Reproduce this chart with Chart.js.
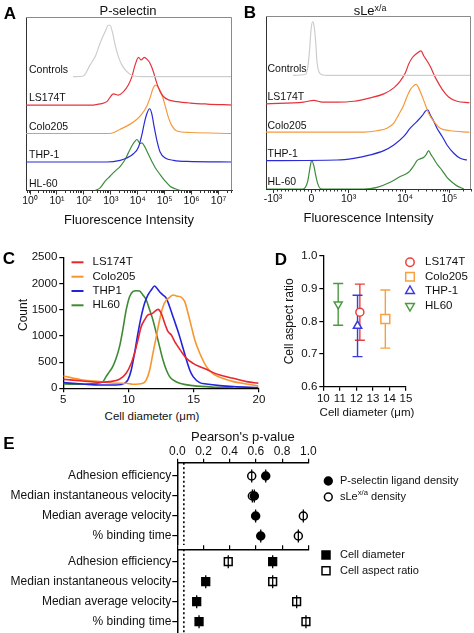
<!DOCTYPE html>
<html><head><meta charset="utf-8">
<script src="https://cdn.jsdelivr.net/npm/chart.js@4.4.1/dist/chart.umd.min.js"></script>
<style>
html,body{margin:0;padding:0;background:#fff}
body{position:relative;width:474px;height:633px;overflow:hidden;font-family:"Liberation Sans",Arial,Helvetica,sans-serif;color:#111}
canvas{position:absolute}
.tx{position:absolute;white-space:nowrap;transform:translate(-50%,-50%);line-height:1}
.lt{font-weight:bold;font-size:17px;color:#000}
sup{font-size:0.68em;vertical-align:0.45em;line-height:0}
</style></head><body>
<canvas id="cA" width="240" height="232" style="left:0;top:0"></canvas>
<canvas id="cB" width="234" height="232" style="left:240px;top:0"></canvas>
<canvas id="cC" width="280" height="170" style="left:0;top:240px"></canvas>
<canvas id="cD" width="194" height="182" style="left:280px;top:240px"></canvas>
<canvas id="cE1" width="474" height="120" style="left:0;top:428px"></canvas>
<canvas id="cE2" width="474" height="88" style="left:0;top:545px"></canvas>
<div class="tx lt" style="left:10px;top:13px">A</div>
<div class="tx lt" style="left:250px;top:12px">B</div>
<div class="tx lt" style="left:9px;top:258px">C</div>
<div class="tx lt" style="left:281px;top:259px">D</div>
<div class="tx lt" style="left:9px;top:443px">E</div>
<div class="tx" style="left:128px;top:10px;font-size:13px">P-selectin</div>
<div class="tx" style="left:370px;top:10px;font-size:13px">sLe<sup>x/a</sup></div>
<div class="tx" style="left:23px;top:315px;font-size:12px;transform:translate(-50%,-50%) rotate(-90deg)">Count</div>
<div class="tx" style="left:152px;top:417px;font-size:11.5px">Cell diameter (μm)</div>
<div class="tx" style="left:367px;top:413px;font-size:11.5px">Cell diameter (μm)</div>
<script>
// ---------------- DATA ----------------
const trackNames = ['HL-60', 'THP-1', 'Colo205', 'LS174T', 'Controls']; // bottom to top
// Panel A (P-selectin): [log10 fluorescence, normalized count]
const aControls = [[1.6,0],[1.73,0],[1.98,0.02],[2.23,0.41],[2.42,0.70],[2.60,1.17],[2.79,1.58],[2.91,1.80],[2.97,1.80],[3.07,1.52],[3.16,1.11],[3.28,0.70],[3.41,0.41],[3.59,0.18],[3.84,0.02],[4.2,0],[7.5,0]];
const aLS174T = [[-0.15,0],[2.35,0],[2.60,0.04],[2.85,0.12],[3.10,0.39],[3.28,0.35],[3.47,0.47],[3.65,0.70],[3.78,0.99],[3.90,1.40],[4.03,1.67],[4.13,1.58],[4.24,1.67],[4.34,1.61],[4.46,1.46],[4.58,1.17],[4.71,0.76],[4.83,0.47],[4.96,0.29],[5.14,0.18],[5.45,0.12],[5.95,0.07],[6.57,0.035],[7.5,0]];
const aColo205 = [[-0.15,0],[2.97,0],[3.35,0.15],[3.72,0.33],[3.97,0.50],[4.15,0.68],[4.34,0.97],[4.46,1.26],[4.56,1.56],[4.65,1.70],[4.77,1.61],[4.89,1.38],[5.02,0.97],[5.14,0.56],[5.27,0.27],[5.45,0.09],[5.95,0.035],[7.5,0]];
const aTHP1 = [[-0.15,0],[2.85,0],[3.35,0.06],[3.59,0.14],[3.84,0.29],[4.03,0.53],[4.15,0.94],[4.24,1.35],[4.34,1.70],[4.44,1.87],[4.52,1.70],[4.61,1.23],[4.71,0.76],[4.83,0.35],[5.02,0.14],[5.33,0.06],[5.82,0.02],[7.5,0]];
const aHL60 = [[2.42,0],[2.60,0.09],[2.79,0.33],[2.97,0.50],[3.16,0.68],[3.35,0.85],[3.53,1.09],[3.65,1.32],[3.78,1.56],[3.90,1.73],[3.97,1.79],[4.09,1.65],[4.15,1.67],[4.28,1.50],[4.40,1.26],[4.52,1.03],[4.65,0.80],[4.83,0.56],[5.02,0.33],[5.20,0.15],[5.39,0.06],[5.58,0]];
const aTickPos = [0,1,2,3,4,5,6,7];
const aTickLabels = ['10⁰','10¹','10²','10³','10⁴','10⁵','10⁶','10⁷'];
// Panel B (sLe x/a): [display coordinate of biexponential axis, normalized count]
const bControls = [[-0.5,0],[-0.19,0.04],[-0.13,0.29],[-0.08,1.00],[-0.05,1.59],[-0.01,1.88],[0.03,1.71],[0.07,1.12],[0.10,0.47],[0.15,0.12],[0.23,0.02],[0.35,0],[3.95,0]];
const bLS174T = [[-1.175,0],[-0.23,0.06],[0.02,0.12],[0.23,0.06],[0.60,0.06],[1.02,0.09],[1.43,0.21],[1.77,0.35],[2.02,0.56],[2.18,0.80],[2.31,1.09],[2.39,1.39],[2.48,1.62],[2.60,1.78],[2.70,1.86],[2.77,1.68],[2.83,1.56],[2.93,1.32],[3.06,0.92],[3.23,0.51],[3.39,0.24],[3.60,0.09],[3.91,0.04]];
const bColo205 = [[-1.175,0],[1.27,0],[1.60,0.05],[1.85,0.14],[2.02,0.32],[2.14,0.61],[2.27,0.96],[2.35,1.25],[2.43,1.49],[2.52,1.64],[2.58,1.68],[2.64,1.56],[2.73,1.26],[2.81,0.96],[2.89,0.67],[3.02,0.38],[3.18,0.14],[3.43,0.05],[3.91,0]];
const bTHP1 = [[-1.175,0],[0.60,0.02],[1.02,0.08],[1.43,0.20],[1.77,0.35],[2.02,0.55],[2.27,0.85],[2.43,1.14],[2.60,1.38],[2.73,1.58],[2.81,1.74],[2.87,1.79],[2.93,1.61],[3.02,1.38],[3.10,1.14],[3.23,0.85],[3.35,0.55],[3.52,0.26],[3.68,0.08],[3.85,0.02]];
const bHL60 = [[-1.175,0],[-0.25,0],[-0.19,0.06],[-0.13,0.29],[-0.08,0.71],[-0.05,0.94],[-0.03,1.00],[0.02,0.82],[0.07,0.47],[0.12,0.18],[0.18,0.02],[0.27,0],[1.27,0],[1.60,0.06],[1.93,0.24],[2.18,0.44],[2.39,0.59],[2.52,0.82],[2.60,1.00],[2.68,1.06],[2.77,1.12],[2.83,1.21],[2.89,1.35],[2.95,1.21],[3.02,1.06],[3.10,0.88],[3.23,0.65],[3.35,0.41],[3.48,0.24],[3.60,0.11],[3.77,0]];
const bTickPos = [-1.0, -0.04, 0.89, 2.3, 3.41];
const bTickLabels = ['-10³', '0', '10³', '10⁴', '10⁵'];
// Panel C: [cell diameter (µm), count]
const cNames = ['LS174T', 'Colo205', 'THP1', 'HL60'];
const cLS174T = [[5.0,172],[6.49,140],[7.77,115],[8.54,127],[9.31,172],[9.82,286],[10.21,477],[10.46,668],[10.72,922],[10.97,1177],[11.23,1304],[11.49,1399],[11.74,1418],[12.0,1463],[12.26,1507],[12.51,1431],[12.77,1240],[13.03,1081],[13.28,1018],[13.54,891],[13.79,795],[14.05,700],[14.44,572],[14.95,477],[15.46,413],[15.97,363],[16.49,299],[17.0,254],[18.03,191],[19.05,127],[19.95,95]];
const cColo205 = [[5.0,235],[6.49,159],[7.77,127],[9.05,95],[9.82,95],[10.33,76],[11.1,95],[11.36,159],[11.62,350],[11.87,668],[12.13,986],[12.38,1304],[12.64,1558],[12.9,1685],[13.15,1736],[13.41,1781],[13.67,1762],[14.05,1736],[14.31,1654],[14.56,1431],[14.82,1177],[15.08,922],[15.46,668],[15.97,413],[16.49,273],[17.0,210],[18.03,127],[19.05,83],[19.95,45]];
const cTHP1 = [[5.0,108],[6.49,83],[7.77,64],[9.05,64],[9.69,95],[9.95,159],[10.21,350],[10.46,668],[10.72,1049],[10.97,1367],[11.23,1622],[11.49,1781],[11.74,1876],[12.0,1953],[12.18,1908],[12.38,1844],[12.64,1781],[12.9,1717],[13.15,1558],[13.41,1367],[13.67,1177],[13.92,986],[14.18,763],[14.44,541],[14.69,350],[14.95,223],[15.46,108],[15.97,83],[17.0,51],[18.03,32],[19.95,13]];
const cHL60 = [[5.0,83],[6.49,76],[7.51,95],[8.03,127],[8.28,223],[8.54,318],[8.79,413],[9.05,572],[9.31,795],[9.56,1113],[9.82,1495],[10.08,1749],[10.33,1844],[10.59,1863],[10.85,1857],[11.1,1781],[11.36,1685],[11.62,1495],[11.87,1304],[12.13,1049],[12.38,795],[12.64,541],[12.9,350],[13.15,223],[13.41,159],[13.92,95],[14.95,51],[16.74,19],[18.03,6]];
// Panel D
const dNames = ['LS174T', 'Colo205', 'THP-1', 'HL60'];
const dDiameter = [12.21, 13.75, 12.07, 10.90];
const dAspect = [0.828, 0.807, 0.786, 0.852];
const dAspectSD = [0.086, 0.089, 0.094, 0.064];
// Panel E
const eRows = ['Adhesion efficiency', 'Median instantaneous velocity', 'Median average velocity', '% binding time'];
const pSelectinP = [0.675, 0.588, 0.598, 0.637];
const sLeP = [0.568, 0.573, 0.962, 0.924];
const cellDiameterP = [0.728, 0.217, 0.148, 0.166];
const aspectRatioP = [0.389, 0.728, 0.911, 0.982];
const pThreshold = 0.05;

// ---------------- STYLE / HELPERS ----------------
const FF = '"Liberation Sans", Arial, Helvetica, sans-serif';
Chart.defaults.font.family = FF;
Chart.defaults.color = '#111';
Chart.defaults.animation = false;
Chart.defaults.events = [];
Chart.defaults.layout.autoPadding = false;
Chart.defaults.plugins.legend.display = false;
Chart.defaults.plugins.tooltip.enabled = false;

const COL = {Controls:'#cdcdcd', LS174T:'#e5323b', Colo205:'#f59a3c', THP1:'#2a2ad6', HL60:'#3d8b3d'};

function fixW(w){ return s => { s.width = w; s.paddingTop = 0; s.paddingBottom = 0; }; }
function fixH(h){ return s => { s.height = h; s.paddingLeft = 0; s.paddingRight = 0; }; }

function trackSeries(pts, name, color){
  const t = trackNames.indexOf(name);
  return { label:name, data: pts.map(p => ({x:p[0], y:t + p[1]})), borderColor:color, borderWidth:1.2,
    pointRadius:0, showLine:true, fill:false, cubicInterpolationMode:'monotone' };
}
function lineSeries(pts, name, color){
  return { label:name, data: pts.map(p => ({x:p[0], y:p[1]})), borderColor:color, borderWidth:1.6,
    pointRadius:0, showLine:true, fill:false, cubicInterpolationMode:'monotone' };
}
function mark(ctx, shape, x, y, r, stroke, fill, lw){
  ctx.save(); ctx.lineWidth = lw; ctx.strokeStyle = stroke; ctx.beginPath();
  if (shape === 'circle') ctx.arc(x, y, r, 0, Math.PI*2);
  else if (shape === 'rect') ctx.rect(x-r, y-r, 2*r, 2*r);
  else if (shape === 'tri') { ctx.moveTo(x, y-r); ctx.lineTo(x+r*0.866, y+r*0.5); ctx.lineTo(x-r*0.866, y+r*0.5); ctx.closePath(); }
  else if (shape === 'triDown') { ctx.moveTo(x, y+r); ctx.lineTo(x+r*0.866, y-r*0.5); ctx.lineTo(x-r*0.866, y-r*0.5); ctx.closePath(); }
  if (fill) { ctx.fillStyle = fill; ctx.fill(); }
  ctx.stroke(); ctx.restore();
}
function drawSegs(ctx, segs, x, y, size){
  let cx = x;
  for (const s of segs){
    const sup = typeof s !== 'string';
    const t = sup ? s.sup : s;
    ctx.font = (sup ? size*0.7 : size) + 'px ' + FF;
    ctx.fillText(t, cx, sup ? y - size*0.4 : y);
    cx += ctx.measureText(t).width;
  }
}
function legendPlugin(items, ox, oy){
  return { id:'lg', afterDraw(chart){
    const ctx = chart.ctx; ctx.save(); ctx.textBaseline = 'middle';
    for (const it of items){
      const y = it.y - oy;
      if (it.line){ ctx.strokeStyle = it.color; ctx.lineWidth = 2; ctx.beginPath(); ctx.moveTo(it.line[0]-ox, y); ctx.lineTo(it.line[1]-ox, y); ctx.stroke(); }
      else mark(ctx, it.shape, it.mx-ox, y, it.r, it.color, it.fill, it.lw || 1.5);
      ctx.fillStyle = '#111'; drawSegs(ctx, it.text, it.tx-ox, y, it.size);
    }
    ctx.restore();
  }};
}
function histDecor(minor, labelDx){
  return { id:'hd', afterDraw(chart){
    const {ctx, chartArea:a, scales:{x, y}} = chart;
    ctx.save();
    ctx.strokeStyle = '#8a8a8a'; ctx.lineWidth = 1; ctx.beginPath();
    ctx.moveTo(a.left, a.top+0.5); ctx.lineTo(a.right-0.5, a.top+0.5); ctx.lineTo(a.right-0.5, a.bottom); ctx.stroke();
    ctx.strokeStyle = '#333'; ctx.beginPath();
    for (const v of minor){ if (v <= x.min || v >= x.max) continue; const px = Math.round(x.getPixelForValue(v)) + 0.5; ctx.moveTo(px, a.bottom); ctx.lineTo(px, a.bottom+2.5); }
    ctx.stroke();
    ctx.fillStyle = '#111'; ctx.textBaseline = 'middle'; ctx.font = '10.5px ' + FF;
    trackNames.forEach((n, i) => ctx.fillText(n, a.left + labelDx, y.getPixelForValue(i) - 6.5));
    ctx.restore();
  }};
}
function histOptions(o){
  return {
    responsive:false, layout:{autoPadding:false, padding:{left:0, top:o.top, right:o.right, bottom:0}},
    scales:{
      x:{type:'linear', min:o.min, max:o.max, bounds:'data',
        afterBuildTicks: s => { s.ticks = o.tickPos.map(v => ({value:v})); },
        afterFit: fixH(o.xh),
        ticks:{callback:(v,i) => o.tickLabels[i], autoSkip:false, maxRotation:0, padding:0, font:{size:10.5}, color:'#111'},
        grid:{drawOnChartArea:false, drawTicks:true, tickLength:4, color:'#333', lineWidth:1},
        border:{display:true, color:'#333', width:1},
        title:{display:true, text:'Fluorescence Intensity', font:{size:13}, color:'#111', padding:{top:0, bottom:o.tb}}},
      y:{type:'linear', min:0, max:o.ymax, afterFit: fixW(26), ticks:{display:false},
        grid:{display:false}, border:{display:true, color:'#333', width:1}}
    }
  };
}

// ---------------- PANEL A ----------------
const minorA = [];
for (let d = -1; d <= 7; d++) for (let k = 2; k <= 9; k++) minorA.push(d + Math.log10(k));
new Chart(document.getElementById('cA'), {
  type:'scatter',
  data:{datasets:[
    trackSeries(aControls, 'Controls', COL.Controls),
    trackSeries(aLS174T, 'LS174T', COL.LS174T),
    trackSeries(aColo205, 'Colo205', COL.Colo205),
    trackSeries(aTHP1, 'THP-1', COL.THP1),
    trackSeries(aHL60, 'HL-60', COL.HL60)]},
  options: histOptions({top:17, right:8, min:-0.15, max:7.5, tickPos:aTickPos, tickLabels:aTickLabels, xh:41.5, tb:4, ymax:6.09}),
  plugins:[histDecor(minorA, 3)]
});

// ---------------- PANEL B ----------------
const minorB = [];
for (let k = 1; k <= 9; k++){ minorB.push(-0.04 - k*0.096); minorB.push(-0.04 + k*0.093); }
[[0.89,2.3],[2.3,3.41],[3.41,4.52]].forEach(([s,e]) => { for (let k = 2; k <= 9; k++) minorB.push(s + Math.log10(k)*(e-s)); });
new Chart(document.getElementById('cB'), {
  type:'scatter',
  data:{datasets:[
    trackSeries(bControls, 'Controls', COL.Controls),
    trackSeries(bLS174T, 'LS174T', COL.LS174T),
    trackSeries(bColo205, 'Colo205', COL.Colo205),
    trackSeries(bTHP1, 'THP-1', COL.THP1),
    trackSeries(bHL60, 'HL-60', COL.HL60)]},
  options: histOptions({top:16, right:3, min:-1.175, max:3.95, tickPos:bTickPos, tickLabels:bTickLabels, xh:43, tb:6, ymax:6.09}),
  plugins:[histDecor(minorB, 1.5)]
});

// ---------------- PANEL C ----------------
const axisStyle = {grid:{drawOnChartArea:false, drawTicks:true, tickLength:4, color:'#000', lineWidth:1.2}, border:{display:true, color:'#000', width:1.3}};
const cColors = ['#e8262f','#f7962f','#2323dc','#3f8a35'];
new Chart(document.getElementById('cC'), {
  type:'scatter',
  data:{datasets:[
    lineSeries(cLS174T, cNames[0], cColors[0]),
    lineSeries(cColo205, cNames[1], cColors[1]),
    lineSeries(cTHP1, cNames[2], cColors[2]),
    lineSeries(cHL60, cNames[3], cColors[3])]},
  options:{
    responsive:false, layout:{autoPadding:false, padding:{left:0, top:17.3, right:21, bottom:0}},
    scales:{
      x:{type:'linear', min:5, max:20, afterFit: fixH(21.7), ticks:{stepSize:5, padding:1, font:{size:11.5}, color:'#111', maxRotation:0, callback:v => String(v)}, ...axisStyle},
      y:{type:'linear', min:0, max:2500, afterFit: fixW(63.3), ticks:{stepSize:500, padding:2, font:{size:11.5}, color:'#111', callback:v => String(v)}, ...axisStyle}
    }
  },
  plugins:[legendPlugin(cNames.map((n,i) => ({line:[71.5,83.5], color:cColors[i], y:[262.3,276.7,291,305.3][i], tx:92.5, text:[n], size:11.5})), 0, 240)]
});

// ---------------- PANEL D ----------------
const dStyle = [
  {shape:'circle', pointStyle:'circle', r:4, rot:0, color:'#e8413a'},
  {shape:'rect', pointStyle:'rect', r:6.3, rot:0, color:'#f5a142'},
  {shape:'tri', pointStyle:'triangle', r:4.8, rot:0, color:'#3a3ae0'},
  {shape:'triDown', pointStyle:'triangle', r:4.6, rot:180, color:'#4a9a3f'}];
const errPlugin = { id:'err', beforeDatasetsDraw(chart){
  const {ctx, scales:{y}} = chart; ctx.save();
  chart.data.datasets.forEach((ds, i) => {
    const pt = chart.getDatasetMeta(i).data[0]; const j = ds.idx;
    const t = y.getPixelForValue(dAspect[j] + dAspectSD[j]), b = y.getPixelForValue(dAspect[j] - dAspectSD[j]);
    ctx.strokeStyle = ds.borderColor; ctx.lineWidth = 1.4; ctx.beginPath();
    ctx.moveTo(pt.x, t); ctx.lineTo(pt.x, b);
    ctx.moveTo(pt.x-5, t); ctx.lineTo(pt.x+5, t);
    ctx.moveTo(pt.x-5, b); ctx.lineTo(pt.x+5, b); ctx.stroke();
  });
  ctx.restore();
}};
new Chart(document.getElementById('cD'), {
  type:'scatter',
  data:{datasets: dNames.map((n,i) => ({label:n, idx:i, data:[{x:dDiameter[i], y:dAspect[i]}], clip:false,
    pointStyle:dStyle[i].pointStyle, pointRadius:dStyle[i].r, rotation:dStyle[i].rot,
    borderColor:dStyle[i].color, backgroundColor:'#fff', pointBorderWidth:1.5}))},
  options:{
    responsive:false, layout:{autoPadding:false, padding:{left:0, top:16, right:68, bottom:0}},
    scales:{
      x:{type:'linear', min:10, max:15, afterFit: fixH(35.3), ticks:{stepSize:1, padding:1, font:{size:11.5}, color:'#111', maxRotation:0}, ...axisStyle},
      y:{type:'linear', min:0.6, max:1.0, afterFit: fixW(43.3), ticks:{stepSize:0.1, padding:2, font:{size:11.5}, color:'#111', callback:v => v.toFixed(1)},
        title:{display:true, text:'Cell aspect ratio', font:{size:12}, color:'#111', padding:{top:2.5, bottom:0}}, ...axisStyle}
    }
  },
  plugins:[errPlugin, legendPlugin(dNames.map((n,i) => ({shape:dStyle[i].shape, mx:410, r:[4.2,4.3,5,5][i], color:dStyle[i].color, fill:null, lw:1.5, y:[262.3,276.7,291,306][i], tx:425, text:[n], size:11.5})), 280, 240)]
});

// ---------------- PANEL E ----------------
const barPlugin = { id:'bars', afterDatasetsDraw(chart){
  const ctx = chart.ctx; ctx.save(); ctx.strokeStyle = '#000'; ctx.lineWidth = 1.3; ctx.beginPath();
  chart.data.datasets.forEach((ds, i) => { if (!ds.bars) return;
    chart.getDatasetMeta(i).data.forEach(p => { ctx.moveTo(p.x, p.y-6.5); ctx.lineTo(p.x, p.y+6.5); }); });
  ctx.stroke(); ctx.restore();
}};
function eOptions(o){
  return {
    responsive:false, layout:{autoPadding:false, padding:{left:0, top:0, right:165.7, bottom:o.pb}},
    scales:{
      x:{type:'linear', position:'top', min:0, max:1, afterFit: fixH(o.xh),
        ticks:{display:o.labels, stepSize:0.2, padding:0, font:{size:12}, color:'#111', maxRotation:0, callback:v => v.toFixed(1)},
        title:{display:o.labels, text:"Pearson's p-value", font:{size:13}, color:'#111', padding:{top:1.3, bottom:0}},
        grid:{drawOnChartArea:false, drawTicks:true, tickLength:4, color:'#000', lineWidth:1.2}, border:{display:true, color:'#000', width:1.5}},
      y:{type:'linear', reverse:true, min:o.ymin, max:o.ymax, afterFit: fixW(177.3),
        afterBuildTicks: s => { s.ticks = eRows.map((r,i) => ({value:i})); },
        ticks:{autoSkip:false, padding:1, font:{size:12}, color:'#111', callback:(v,i) => eRows[i]},
        grid:{drawOnChartArea:false, drawTicks:true, tickLength:5, color:'#000', lineWidth:1.2}, border:{display:true, color:'#000', width:1.5}}
    }
  };
}
function thresholdSeries(ymin, ymax){
  return {label:'p = 0.05', data:[{x:pThreshold, y:ymin}, {x:pThreshold, y:ymax}], showLine:true, pointRadius:0,
    borderColor:'#000', borderWidth:1.6, borderDash:[2,2.5], order:5};
}
function pSeries(vals, name, style, filled, r){
  return {label:name, bars:true, clip:false, data: vals.map((v,i) => ({x:v, y:i})), pointStyle:style, pointRadius:r,
    borderColor:'#000', backgroundColor: filled ? '#000' : 'rgba(0,0,0,0)', pointBorderWidth:1.5};
}
new Chart(document.getElementById('cE1'), {
  type:'scatter',
  data:{datasets:[
    pSeries(pSelectinP, 'P-selectin ligand density', 'circle', true, 4),
    pSeries(sLeP, 'sLe x/a density', 'circle', false, 4),
    thresholdSeries(-0.665, 3.45)]},
  options: eOptions({pb:3, xh:34.7, labels:true, ymin:-0.665, ymax:3.45}),
  plugins:[barPlugin, legendPlugin([
    {shape:'circle', mx:328.3, r:3.9, color:'#000', fill:'#000', y:481, tx:340, text:['P-selectin ligand density'], size:11},
    {shape:'circle', mx:328.3, r:3.9, color:'#000', fill:null, y:497, tx:340, text:['sLe', {sup:'x/a'}, ' density'], size:11}], 0, 428)]
});
new Chart(document.getElementById('cE2'), {
  type:'scatter',
  data:{datasets:[
    pSeries(cellDiameterP, 'Cell diameter', 'rect', true, 5.5),
    pSeries(aspectRatioP, 'Cell aspect ratio', 'rect', false, 5.5),
    thresholdSeries(-0.62, 3.565)]},
  options: eOptions({pb:0, xh:4.3, labels:false, ymin:-0.62, ymax:3.565}),
  plugins:[barPlugin, legendPlugin([
    {shape:'rect', mx:326, r:4, color:'#000', fill:'#000', y:555, tx:340, text:['Cell diameter'], size:11},
    {shape:'rect', mx:326, r:4, color:'#000', fill:null, y:570.7, tx:340, text:['Cell aspect ratio'], size:11}], 0, 545)]
});
</script>
</body></html>
